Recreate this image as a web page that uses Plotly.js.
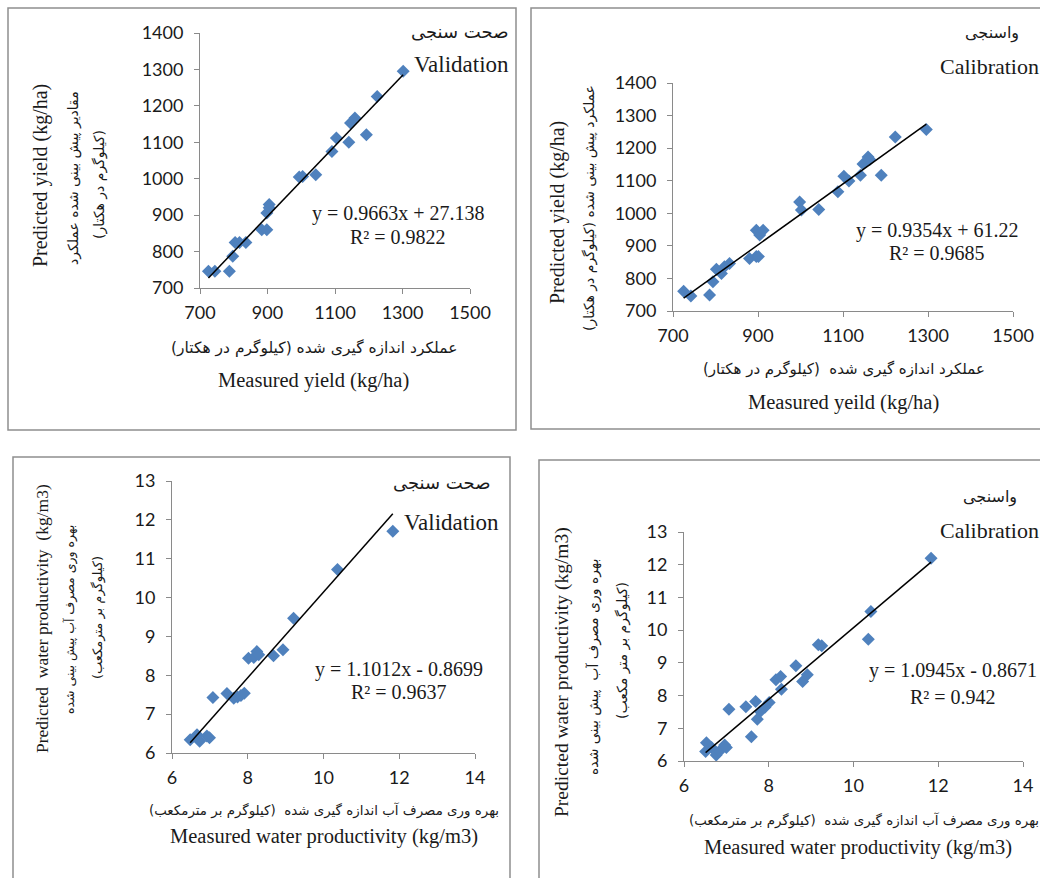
<!DOCTYPE html>
<html>
<head>
<meta charset="utf-8">
<script src="https://cdn.plot.ly/plotly-3.0.1.min.js"></script>
<style>html,body{margin:0;padding:0;background:#fff;}#chart{width:1040px;height:878px;}</style>
</head>
<body>
<div id="chart"></div>
<script>
// ---------- DATA ----------
// Validation – yield (kg/ha)
const valYieldMeasured  = [725, 744, 787, 797, 804, 817, 836, 883, 898, 898, 905, 905, 994, 1004, 1043, 1091, 1104, 1141, 1146, 1159, 1193, 1225, 1302];
const valYieldPredicted = [746, 746, 746, 787, 825, 825, 825, 860, 860, 906, 929, 920, 1005, 1006, 1011, 1075, 1112, 1100, 1153, 1167, 1121, 1226, 1295];
// Calibration – yield (kg/ha)
const calYieldMeasured  = [725, 742, 786, 794, 802, 814, 821, 833, 880, 896, 901, 896, 904, 912, 998, 1002, 1043, 1088, 1102, 1114, 1141, 1147, 1159, 1163, 1190, 1223, 1296];
const calYieldPredicted = [761, 746, 749, 790, 828, 815, 836, 846, 861, 867, 867, 948, 933, 948, 1035, 1010, 1012, 1066, 1114, 1099, 1117, 1151, 1173, 1165, 1117, 1234, 1257];
// Validation – water productivity (kg/m3)
const valWpMeasured  = [6.48, 6.66, 6.73, 6.92, 6.99, 7.08, 7.45, 7.63, 7.73, 7.82, 7.91, 8.02, 8.16, 8.24, 8.29, 8.68, 8.93, 9.21, 10.37, 11.83];
const valWpPredicted = [6.34, 6.47, 6.30, 6.44, 6.39, 7.43, 7.53, 7.41, 7.44, 7.48, 7.54, 8.44, 8.46, 8.61, 8.53, 8.50, 8.66, 9.47, 10.72, 11.71];
// Calibration – water productivity (kg/m3)
const calWpMeasured  = [6.51, 6.53, 6.65, 6.76, 6.83, 6.96, 7.00, 7.06, 7.46, 7.59, 7.69, 7.73, 7.80, 7.91, 8.01, 8.17, 8.28, 8.30, 8.64, 8.80, 8.91, 9.17, 9.25, 10.35, 10.41, 11.83];
const calWpPredicted = [6.29, 6.56, 6.41, 6.18, 6.29, 6.49, 6.41, 7.58, 7.66, 6.74, 7.82, 7.28, 7.51, 7.64, 7.79, 8.48, 8.58, 8.19, 8.91, 8.43, 8.64, 9.55, 9.52, 9.72, 10.57, 12.20];

// Trend line equations shown on the chart: [slope, intercept]
const trendValYield = [0.9663, 27.138];
const trendCalYield = [0.9354, 61.22];
const trendValWp    = [1.1012, -0.8699];
const trendCalWp    = [1.0945, -0.8671];

// Text labels
const eqLabels = ["y = 0.9663x + 27.138", "y = 0.9354x + 61.22", "y = 1.1012x - 0.8699", "y = 1.0945x - 0.8671"];
const r2Labels = ["R² = 0.9822", "R² = 0.9685", "R² = 0.9637", "R² = 0.942"];
const faValidation = "صحت سنجی";
const faCalibration = "واسنجی";
const yieldRange = [700, 1500];
const yieldYRange = [700, 1400];
const wpRange = [6, 14];
const wpYRange = [6, 13];

// ---------- HELPERS ----------
const W = 1040, H = 878;
const px = v => v / W;
const py = v => 1 - v / H;
const RLM = "\u200F";
const fa = s => RLM + s + RLM;

function trend(xs, coef, xa, ya) {
  const x0 = Math.min(...xs), x1 = Math.max(...xs);
  return {x: [x0, x1], y: [coef[0]*x0 + coef[1], coef[0]*x1 + coef[1]], mode: 'lines', type: 'scatter',
          line: {color: '#000', width: 1.5}, xaxis: xa, yaxis: ya, hoverinfo: 'skip', showlegend: false};
}
function pts(xs, ys, xa, ya) {
  return {x: xs, y: ys, mode: 'markers', type: 'scatter', xaxis: xa, yaxis: ya, showlegend: false,
          marker: {symbol: 'diamond', size: 10, color: '#4F81BD'}};
}
function ax(domain, range, dtick, anchor, standoff) {
  return {domain: domain, range: range, dtick: dtick, tick0: range[0], anchor: anchor,
    showgrid: false, zeroline: false, showline: true, linecolor: '#8a8a8a', linewidth: 1,
    ticks: 'outside', ticklen: 5, tickcolor: '#8a8a8a', ticklabelstandoff: standoff,
    tickfont: {family: 'Lato, Carlito, sans-serif', size: 18, color: '#1a1a1a'}, fixedrange: true};
}

const data = [
  pts(valYieldMeasured, valYieldPredicted, 'x', 'y'),
  trend(valYieldMeasured, trendValYield, 'x', 'y'),
  pts(calYieldMeasured, calYieldPredicted, 'x2', 'y2'),
  trend(calYieldMeasured, trendCalYield, 'x2', 'y2'),
  pts(valWpMeasured, valWpPredicted, 'x3', 'y3'),
  trend(valWpMeasured, trendValWp, 'x3', 'y3'),
  pts(calWpMeasured, calWpPredicted, 'x4', 'y4'),
  trend(calWpMeasured, trendCalWp, 'x4', 'y4')
];

const serif = 'Liberation Serif, Times New Roman, serif';
const faFont = 'DejaVu Sans, sans-serif';
function ann(text, x, y, size, family, opts) {
  return Object.assign({text: text, x: px(x), y: py(y), xref: 'paper', yref: 'paper', showarrow: false,
    xanchor: 'center', yanchor: 'middle', font: {family: family, size: size, color: '#1a1a1a'}}, opts || {});
}

const annotations = [
  // Panel 1
  ann(fa(faValidation), 510, 32, 18, faFont, {xanchor: 'right'}),
  ann("Validation", 511, 65, 23, serif, {xanchor: 'right'}),
  ann(eqLabels[0], 398, 213, 20, serif),
  ann(r2Labels[0], 398, 237, 20, serif),
  ann(fa("عملکرد اندازه گیری شده (کیلوگرم در هکتار)"), 314, 348, 15.5, faFont),
  ann("Measured yield (kg/ha)", 313, 380, 20.5, serif),
  ann("Predicted yield (kg/ha)", 40, 176, 20, serif, {textangle: -90}),
  ann(fa("مقادیر پیش بینی شده عملکرد"), 73, 178, 14, faFont, {textangle: -90}),
  ann(fa("(کیلوگرم در هکتار)"), 100, 185, 14, faFont, {textangle: -90}),
  // Panel 2
  ann(fa(faCalibration), 992, 33, 16, faFont),
  ann("Calibration", 938, 67, 22, serif, {xanchor: 'left'}),
  ann(eqLabels[1], 937, 230, 20, serif),
  ann(r2Labels[1], 937, 253, 20, serif),
  ann(fa("عملکرد اندازه گیری شده  (کیلوگرم در هکتار)"), 844, 369, 15, faFont),
  ann("Measured yeild (kg/ha)", 843, 402, 20.5, serif),
  ann("Predicted yield (kg/ha)", 557, 213, 20, serif, {textangle: -90}),
  ann(fa("عملکرد پیش بینی شده (کیلوگرم در هکتار)"), 589, 208, 14, faFont, {textangle: -90}),
  // Panel 3
  ann(fa(faValidation), 492, 483, 18, faFont, {xanchor: 'right'}),
  ann("Validation", 501, 522, 23, serif, {xanchor: 'right'}),
  ann(eqLabels[2], 399, 669, 20, serif),
  ann(r2Labels[2], 399, 692, 20, serif),
  ann(fa("بهره وری مصرف آب اندازه گیری شده  (کیلوگرم بر مترمکعب)"), 324, 810, 13.4, faFont),
  ann("Measured water productivity (kg/m3)", 324, 836, 20.5, serif),
  ann("Predicted  water productivity  (kg/m3)", 42, 619, 17.5, serif, {textangle: -90}),
  ann(fa("بهره وری مصرف آب پیش بینی شده"), 70, 620, 12.5, faFont, {textangle: -90}),
  ann(fa("(کیلوگرم بر مترمکعب)"), 98, 618, 13, faFont, {textangle: -90}),
  // Panel 4
  ann(fa(faCalibration), 990, 497, 16, faFont),
  ann("Calibration", 938, 530, 22, serif, {xanchor: 'left'}),
  ann(eqLabels[3], 953, 670, 20, serif),
  ann(r2Labels[3], 953, 697, 20, serif),
  ann(fa("بهره وری مصرف آب اندازه گیری شده  (کیلوگرم بر مترمکعب)"), 864, 820, 13.4, faFont),
  ann("Measured water productivity (kg/m3)", 858, 847, 20.5, serif),
  ann("Predicted water productivity (kg/m3)", 562, 672, 19.5, serif, {textangle: -90}),
  ann(fa("بهره وری مصرف آب  پیش بینی شده"), 593, 667, 14, faFont, {textangle: -90}),
  ann(fa("(کیلوگرم بر متر مکعب)"), 622, 651, 14, faFont, {textangle: -90})
];

function box(x0, y0, x1, y1) {
  return {type: 'rect', xref: 'paper', yref: 'paper', x0: px(x0), x1: px(x1), y0: py(y0), y1: py(y1),
          line: {color: '#8f8f8f', width: 1.5}, fillcolor: 'rgba(0,0,0,0)', layer: 'below'};
}

const layout = {
  width: W, height: H, margin: {l: 0, r: 0, t: 0, b: 0},
  paper_bgcolor: '#fff', plot_bgcolor: 'rgba(0,0,0,0)', showlegend: false,
  xaxis:  ax([px(200), px(470)], yieldRange, 200, 'y', 3),
  yaxis:  ax([py(288), py(33)], yieldYRange, 100, 'x', 7),
  xaxis2: ax([px(673), px(1013)], yieldRange, 200, 'y2', 3),
  yaxis2: ax([py(311), py(83)], yieldYRange, 100, 'x2', 7),
  xaxis3: ax([px(172), px(475)], wpRange, 2, 'y3', 3),
  yaxis3: ax([py(753), py(481)], wpYRange, 1, 'x3', 7),
  xaxis4: ax([px(684), px(1023)], wpRange, 2, 'y4', 3),
  yaxis4: ax([py(761), py(532)], wpYRange, 1, 'x4', 7),
  annotations: annotations,
  shapes: [box(8, 8, 516, 430), box(531, 8, 1050, 429), box(13, 457, 510, 890), box(539, 460, 1050, 890)]
};

Plotly.newPlot('chart', data, layout, {displayModeBar: false, staticPlot: true});
</script>
</body>
</html>
